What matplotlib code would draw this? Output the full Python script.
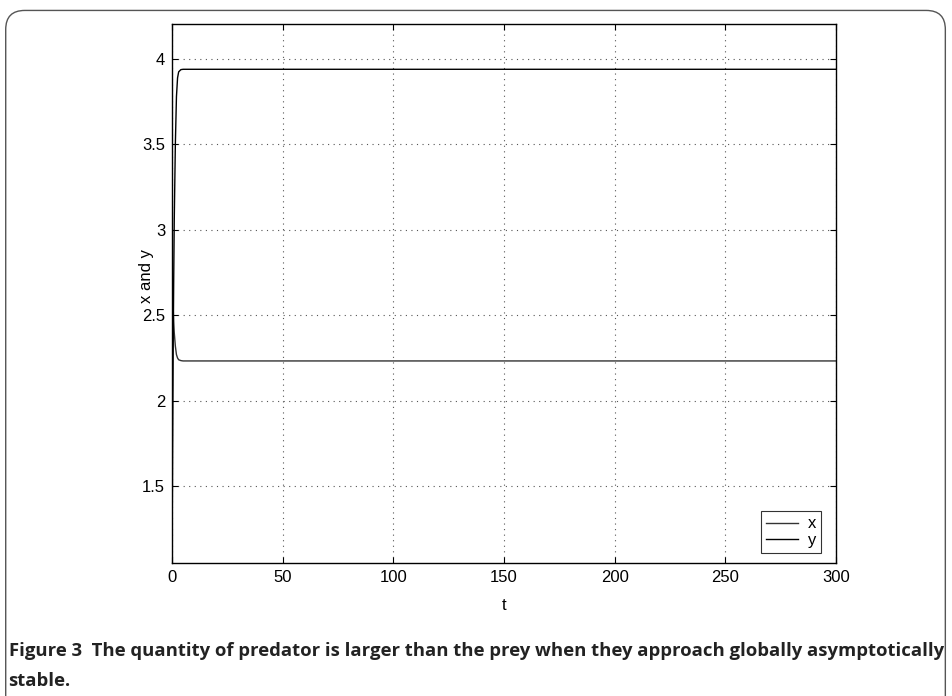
import matplotlib
matplotlib.use("Agg")
import matplotlib.pyplot as plt
from matplotlib.patches import FancyBboxPatch

# prey x and predator y over time
t = [0, 0.25, 0.5, 0.75, 1.0, 1.5, 2.0, 2.5, 3.0, 4.0, 5.0, 300]
x_prey = [2.8, 2.66, 2.55, 2.46, 2.40, 2.32, 2.27, 2.25, 2.24, 2.235, 2.233, 2.233]
y_pred = [1.05, 1.7, 2.25, 2.7, 3.05, 3.5, 3.78, 3.89, 3.925, 3.938, 3.94, 3.94]

xticks = [0, 50, 100, 150, 200, 250, 300]
yticks = [1.5, 2, 2.5, 3, 3.5, 4]

caption_bold = "Figure 3  The quantity of predator is larger than the prey when they approach globally asymptotically"
caption_bold2 = "stable."

plt.rcParams['font.family'] = ['Liberation Sans', 'DejaVu Sans']

fig = plt.figure(figsize=(9.52, 6.96), dpi=100)

# rounded frame around the whole figure
frame = FancyBboxPatch((0.006, -0.05), 0.987, 1.035, boxstyle="round,pad=0,rounding_size=0.02",
                       transform=fig.transFigure, facecolor="none", edgecolor="#555555",
                       linewidth=1.0, mutation_aspect=952 / 696)
fig.patches.append(frame)

ax = fig.add_axes([0.1807, 0.191, 0.6975, 0.7745])
ax.plot(t, x_prey, color="#333333", linewidth=1.0, label="x")
ax.plot(t, y_pred, color="black", linewidth=1.0, label="y")

ax.set_xlim(0, 300)
ax.set_ylim(1.05, 4.205)
ax.set_xticks(xticks)
ax.set_xticklabels([str(v) for v in xticks])
ax.set_yticks(yticks)
ax.set_yticklabels(["1.5", "2", "2.5", "3", "3.5", "4"])
ax.tick_params(direction="in", top=True, right=True, labelsize=12, length=4, pad=5)
ax.grid(True, linestyle=(0, (1, 4)), color="#555555", linewidth=0.8)
for s in ax.spines.values():
    s.set_linewidth(1.0)

ax.set_xlabel("t", fontsize=12)
ax.set_ylabel("x and y", fontsize=12)
ax.xaxis.set_label_coords(0.5, -0.064)
ax.yaxis.set_label_coords(-0.027, 0.532)

leg = ax.legend(loc="lower right", bbox_to_anchor=(0.9775, 0.0186), fontsize=12, handlelength=1.9,
                frameon=True, fancybox=False, edgecolor="black", borderpad=0.3, labelspacing=0.1,
                handletextpad=0.6, borderaxespad=0)
leg.get_frame().set_linewidth(0.8)

fig.text(0.009, 0.064, caption_bold, fontsize=13.3, fontweight="bold", family=["Open Sans", "DejaVu Sans"],
         ha="left", va="center", color="#222222")
fig.text(0.009, 0.022, caption_bold2, fontsize=13.3, fontweight="bold", family=["Open Sans", "DejaVu Sans"],
         ha="left", va="center", color="#222222")

fig.savefig("out.png", dpi=100)
